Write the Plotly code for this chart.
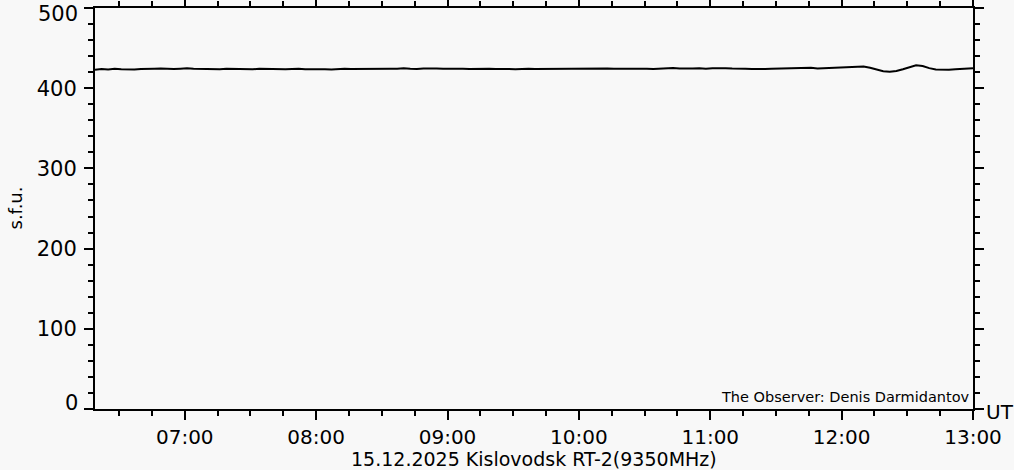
import pandas as pd
import plotly.graph_objects as go

# time axis: samples every 3 minutes from 06:19 to 12:58, plus 13:00
times = list(pd.date_range("2025-12-15 06:19", "2025-12-15 12:58", freq="3min")) + [pd.Timestamp("2025-12-15 13:00")]

flux_sfu = [
    423.0, 423.8, 423.2, 424.1, 423.6, 423.1, 423.4, 424.0, 423.7, 424.3,
    424.6, 424.0, 423.8, 424.4, 424.9, 424.2, 423.9, 424.5, 424.1, 423.7,
    424.2, 423.9, 424.3, 424.0, 423.6, 424.1, 423.8, 424.4, 423.9, 423.5,
    423.8, 424.2, 423.6, 423.9, 424.3, 423.7, 423.4, 423.9, 424.2, 423.8,
    424.0, 423.6, 424.3, 424.5, 423.9, 424.4, 424.1, 424.8, 424.2, 423.9,
    424.6, 425.0, 424.7, 424.3, 424.5, 424.1, 424.4, 424.0, 424.3, 423.9,
    424.1, 423.8, 424.2, 424.0, 423.7, 424.1, 424.3, 423.9, 424.0, 424.2,
    423.8, 424.1, 423.9, 424.3, 424.6, 424.2, 424.8, 425.1, 424.5, 424.2,
    424.6, 424.1, 424.4, 424.8, 424.3, 424.0, 424.5, 424.9, 425.2, 424.6,
    424.3, 424.7, 425.0, 424.4, 424.8, 425.3, 424.9, 424.5, 424.8, 424.2,
    424.0, 424.4, 423.9, 424.2, 424.5, 424.1, 424.4, 424.8, 425.0, 425.4,
    424.6, 424.9, 425.1, 425.4, 425.8, 426.3, 426.8, 427.0, 425.4, 423.0,
    421.2, 420.6, 421.4, 423.6, 426.6, 428.6, 427.6, 425.0, 423.4, 422.8,
    423.0, 423.6, 424.2, 424.6,
    425.0,
]

x_range = ["2025-12-15 06:19", "2025-12-15 13:00"]
y_range = [0, 500]
y_tick_values = [0, 100, 200, 300, 400, 500]
y_tick_labels = ["0", "100", "200", "300", "400", "500"]

title_text = "15.12.2025 Kislovodsk RT-2(9350MHz)"
observer_text = "The Observer: Denis Darmidantov"

FONT = "DejaVu Sans"
BG = "#f8f8f8"
X_TICK_SIZE = 20
Y_TICK_SIZE = 21

fig = go.Figure()
fig.add_trace(go.Scatter(x=times, y=flux_sfu, mode="lines",
                         line=dict(color="black", width=2), showlegend=False))

axis_common = dict(
    showline=True, linecolor="black", linewidth=2, mirror="allticks",
    ticks="outside", tickcolor="black", tickwidth=2, ticklen=9,
    showgrid=False, zeroline=False, automargin=False,
)

fig.update_xaxes(
    **axis_common,
    tickfont=dict(family=FONT, size=X_TICK_SIZE, color="black"),
    type="date", range=x_range, dtick=3600000, tickformat="%H:%M",
    tick0="2025-12-15 00:00",
    ticklabelstandoff=0,
    minor=dict(dtick=900000, ticks="outside", ticklen=5, tickwidth=2, tickcolor="black", showgrid=False),
)
# inner labels drawn by the axis; the two end labels are nudged inward like the original
inner_text = [t if v not in (y_range[0], y_range[1]) else "" for v, t in zip(y_tick_values, y_tick_labels)]
fig.update_yaxes(
    **axis_common,
    tickfont=dict(family=FONT, size=Y_TICK_SIZE, color="black"),
    range=y_range, tickmode="array", tickvals=y_tick_values, ticktext=inner_text,
    ticklabelstandoff=3,
    minor=dict(dtick=20, tick0=0, ticks="outside", ticklen=5, tickwidth=2, tickcolor="black", showgrid=False),
)
for v, t, shift in [(y_range[1], y_tick_labels[-1], -6), (y_range[0], y_tick_labels[0], 6)]:
    fig.add_annotation(text=t, xref="paper", yref="y", x=0.0, y=v, xshift=-15, yshift=shift,
                       xanchor="right", yanchor="middle", showarrow=False,
                       font=dict(family=FONT, size=Y_TICK_SIZE, color="black"))

fig.add_annotation(text=title_text, xref="paper", yref="paper", x=0.5, y=0.0,
                   yshift=-50, xanchor="center", yanchor="middle", showarrow=False,
                   font=dict(family=FONT, size=19, color="black"))
fig.add_annotation(text="UT", xref="paper", yref="paper", x=1.0, y=0.0,
                   xshift=11, yshift=-3, xanchor="left", yanchor="middle", showarrow=False,
                   font=dict(family=FONT, size=X_TICK_SIZE, color="black"))
fig.add_annotation(text="s.f.u.", xref="paper", yref="paper", x=0.0, y=0.5,
                   xshift=-80, xanchor="center", yanchor="middle", textangle=-90, showarrow=False,
                   font=dict(family=FONT, size=18, color="black"))
fig.add_annotation(text=observer_text, xref="paper", yref="paper", x=1.0, y=0.0,
                   xshift=-1, yshift=12, xanchor="right", yanchor="middle", showarrow=False,
                   font=dict(family=FONT, size=14.5, color="black"))

fig.update_layout(
    width=1014, height=470,
    margin=dict(l=95, r=41, t=8, b=61, autoexpand=False),
    paper_bgcolor=BG, plot_bgcolor=BG,
)

fig.write_html("out.html", config={"displayModeBar": False},
               post_script="document.body.style.margin='0';document.body.style.background='%s';" % BG)
